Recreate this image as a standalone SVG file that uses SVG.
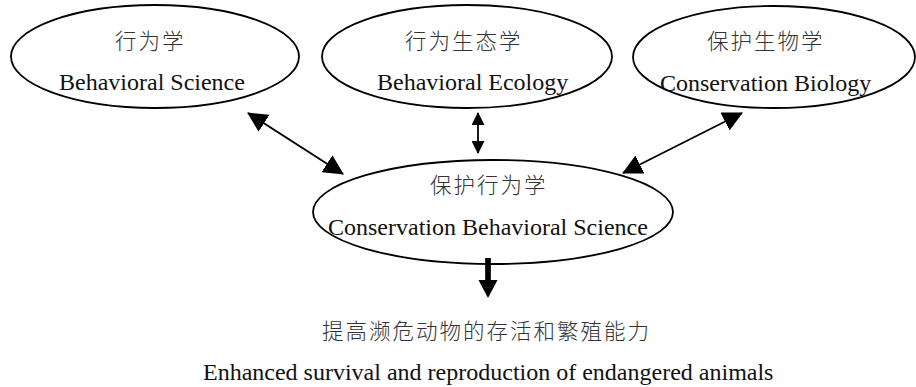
<svg xmlns="http://www.w3.org/2000/svg" width="916" height="387" viewBox="0 0 916 387">
<style>
.node{fill:#fff;stroke:#000;stroke-width:1.8}
.en{font-family:"Liberation Serif","Times New Roman",serif;font-size:24px;fill:#111}
.zh{font-family:"Noto Sans CJK SC","Liberation Serif",sans-serif;font-size:21.5px;letter-spacing:2px;fill:#333;font-weight:300}
.conn{stroke:#000;stroke-width:1.8;fill:none}
</style>
<defs>
<marker id="big" markerUnits="userSpaceOnUse" markerWidth="20" markerHeight="20" refX="19" refY="10" orient="auto-start-reverse" viewBox="0 0 20 20">
<path d="M0,0 L20,10 L0,20 z" fill="#000"/>
</marker>
<marker id="small" markerUnits="userSpaceOnUse" markerWidth="13" markerHeight="13" refX="12" refY="6.5" orient="auto-start-reverse" viewBox="0 0 13 13">
<path d="M0,0 L13,6.5 L0,13 z" fill="#000"/>
</marker>
</defs>
<g id="node-behavioral-science">
<ellipse class="node" cx="155" cy="56.5" rx="144" ry="51.5"/>
<text class="zh" x="115" y="48.5">行为学</text>
<text class="en" x="59" y="90">Behavioral Science</text>
</g>
<g id="node-behavioral-ecology">
<ellipse class="node" cx="467" cy="56.5" rx="145" ry="51.5"/>
<text class="zh" x="405" y="48.5">行为生态学</text>
<text class="en" x="377" y="90">Behavioral Ecology</text>
</g>
<g id="node-conservation-biology">
<ellipse class="node" cx="774" cy="57" rx="141" ry="51"/>
<text class="zh" x="707" y="48.5">保护生物学</text>
<text class="en" x="660" y="91">Conservation Biology</text>
</g>
<g id="node-conservation-behavioral-science">
<ellipse class="node" cx="493" cy="212" rx="180" ry="52"/>
<text class="zh" x="430" y="192.5">保护行为学</text>
<text class="en" x="328" y="235">Conservation Behavioral Science</text>
</g>
<g id="outcome">
<text class="zh" x="322" y="338.5">提高濒危动物的存活和繁殖能力</text>
<text class="en" x="203" y="380">Enhanced survival and reproduction of endangered animals</text>
</g>
<g id="connectors">
<line class="conn" x1="248" y1="113" x2="343" y2="174" marker-start="url(#big)" marker-end="url(#big)"/>
<line class="conn" x1="478" y1="113" x2="478" y2="153" marker-start="url(#small)" marker-end="url(#small)"/>
<line class="conn" x1="742" y1="113" x2="623" y2="173" marker-start="url(#big)" marker-end="url(#big)"/>
<line x1="488" y1="258" x2="488" y2="282" stroke="#000" stroke-width="5.7"/>
<polygon points="478.5,280 497.5,280 488,298" fill="#000"/>
</g>
</svg>
